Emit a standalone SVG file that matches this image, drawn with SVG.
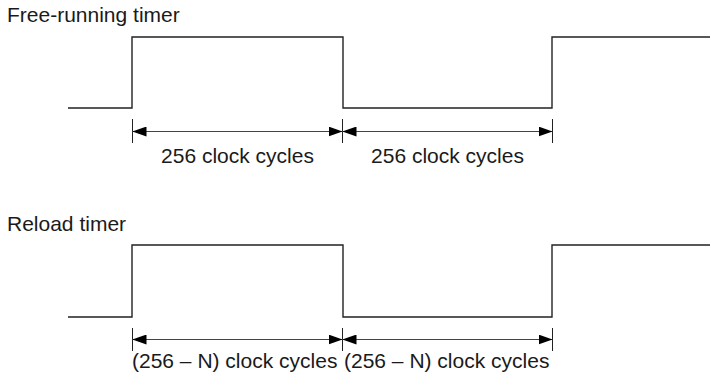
<svg xmlns="http://www.w3.org/2000/svg" width="710" height="380" viewBox="0 0 710 380">
<defs>
<style>
.wave{fill:none;stroke:#222;stroke-width:1.4}
.dim{fill:none;stroke:#444;stroke-width:1}
.tick{fill:none;stroke:#222;stroke-width:1}
.lbl{font-family:"Liberation Sans",Arial,sans-serif;font-size:21px;fill:#1a1a1a}
</style>
<marker id="ah" viewBox="0 0 14 10" refX="14" refY="5" markerWidth="14" markerHeight="10" markerUnits="userSpaceOnUse" orient="auto-start-reverse">
<path d="M0,0 L14,5 L0,10 Z" fill="#000"/>
</marker>
</defs>
<rect width="710" height="380" fill="#fff"/>
<g id="free-running">
<text class="lbl" x="7" y="22">Free-running timer</text>
<path class="wave" d="M68,108 H132 V37 H343 V108 H552 V37 H710"/>
</g>
<g id="reload">
<text class="lbl" x="7" y="231">Reload timer</text>
<path class="wave" d="M68,317 H132 V245 H343 V317 H552 V245 H710"/>
</g>
<g id="connectors">
<path class="tick" d="M132.5,119 V143 M342.5,119 V143 M552.5,119 V143"/>
<line class="dim" x1="132.5" y1="131.5" x2="342.5" y2="131.5" marker-start="url(#ah)" marker-end="url(#ah)"/>
<line class="dim" x1="342.5" y1="131.5" x2="552.5" y2="131.5" marker-start="url(#ah)" marker-end="url(#ah)"/>
<path class="tick" d="M132.5,328 V351 M342.5,328 V351 M552.5,328 V351"/>
<line class="dim" x1="132.5" y1="339.5" x2="342.5" y2="339.5" marker-start="url(#ah)" marker-end="url(#ah)"/>
<line class="dim" x1="342.5" y1="339.5" x2="552.5" y2="339.5" marker-start="url(#ah)" marker-end="url(#ah)"/>
</g>
<g id="labels">
<text class="lbl" x="237.5" y="163" text-anchor="middle">256 clock cycles</text>
<text class="lbl" x="447.5" y="163" text-anchor="middle">256 clock cycles</text>
<text class="lbl" x="132" y="368">(256 – N) clock cycles</text>
<text class="lbl" x="344" y="368">(256 – N) clock cycles</text>
</g>
</svg>
